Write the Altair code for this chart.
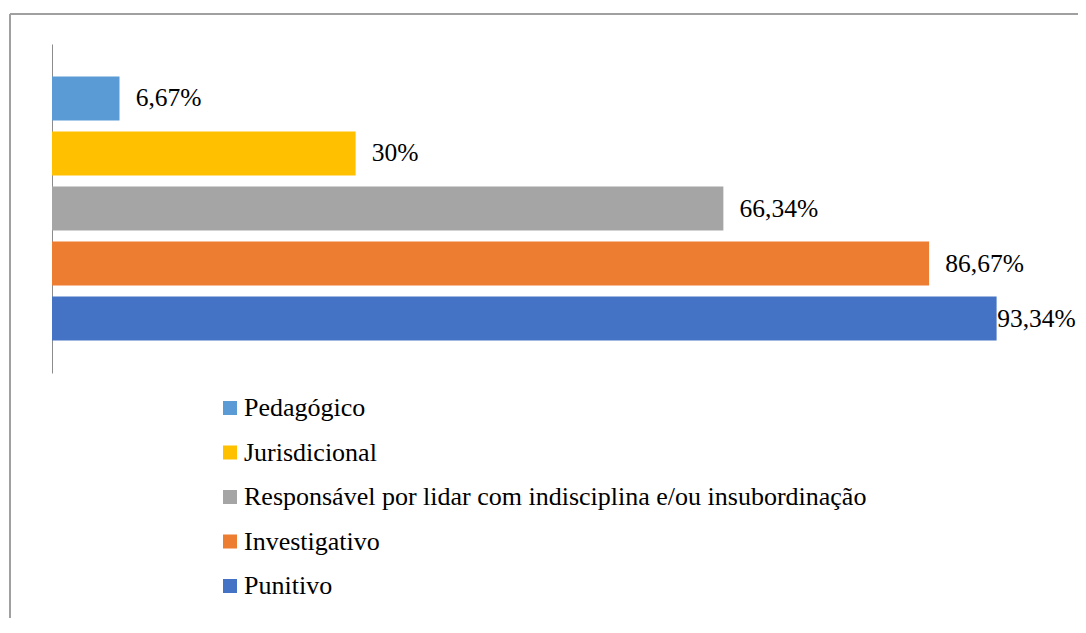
import altair as alt
import pandas as pd

categories = ["Pedagógico", "Jurisdicional",
              "Responsável por lidar com indisciplina e/ou insubordinação",
              "Investigativo", "Punitivo"]
values = [6.67, 30, 66.34, 86.67, 93.34]
labels = ["6,67%", "30%", "66,34%", "86,67%", "93,34%"]
colors = ["#5B9BD5", "#FFC000", "#A5A5A5", "#ED7D31", "#4472C4"]

df = pd.DataFrame({"cat": categories, "val": values, "lab": labels})

FONT = "'Liberation Serif', 'Times New Roman', Times, 'DejaVu Serif', serif"

y_enc = alt.Y("cat:N", sort=categories,
              scale=alt.Scale(paddingInner=0.2, paddingOuter=0.59),
              axis=alt.Axis(labels=False, ticks=False, title=None, grid=False,
                            domainColor="#8C8C8C", domainWidth=1))
x_scale = alt.Scale(domain=[0, 100], nice=False, zero=True)

bars = alt.Chart(df).mark_bar().encode(
    x=alt.X("val:Q", scale=x_scale, axis=None), y=y_enc,
    color=alt.Color("cat:N", sort=categories,
                    scale=alt.Scale(domain=categories, range=colors),
                    legend=alt.Legend(title=None, orient="none", legendX=165, legendY=351,
                                      symbolType="square", symbolSize=196,
                                      symbolStrokeWidth=0, labelFont=FONT,
                                      labelFontSize=26, labelColor="#000000",
                                      labelOffset=1, rowPadding=18.5,
                                      labelLimit=900))
)

# label placed just past the bar end, kept inside the plot like the original
text = alt.Chart(df).transform_calculate(
    pos="min(datum.val + 1.6, 93.4)"
).mark_text(align="left", baseline="middle",
            font=FONT, fontSize=25.5, color="#000000").encode(
    x=alt.X("pos:Q", scale=x_scale, axis=None),
    y=alt.Y("cat:N", sort=categories), text="lab:N")

frame_left = alt.Chart(df).mark_rule(color="#A0A0A0", strokeWidth=1.5).encode(
    x=alt.value(-42), y=alt.value(-30), y2=alt.value(700))
frame_top = alt.Chart(df).mark_rule(color="#A0A0A0", strokeWidth=1.5).encode(
    x=alt.value(-42), x2=alt.value(1100), y=alt.value(-30))

chart = alt.layer(frame_left, frame_top, bars, text).properties(
    width=1012, height=329,
    autosize=alt.AutoSizeParams(type="none"),
    padding={"left": 44, "top": 36, "right": 14, "bottom": 245},
).configure_view(stroke=None)

chart.save("out.html", embed_options={"renderer": "svg", "actions": False})
